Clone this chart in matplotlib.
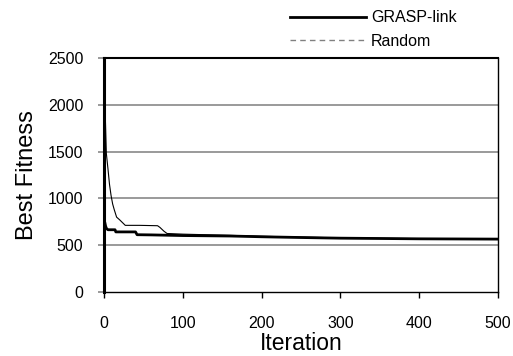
import matplotlib
matplotlib.use("Agg")
import matplotlib.pyplot as plt
from matplotlib.lines import Line2D

plt.rcParams['font.family'] = ['Liberation Sans', 'DejaVu Sans']

# GRASP-link series (iteration, best fitness)
grasp_iter = [0, 1, 2, 3, 5, 14, 15, 40, 42, 60, 100, 160, 200, 250, 300, 400, 500]
grasp_fit = [755, 745, 705, 680, 665, 665, 642, 642, 612, 610, 603, 598, 590, 582, 575, 568, 565]

# Random series
rand_iter = [0, 1, 2, 3, 5, 7, 9, 11, 13, 16, 20, 24, 27, 45, 68, 71, 76, 80, 100, 160, 200, 300, 400, 500]
rand_fit = [2300, 2050, 1780, 1480, 1320, 1150, 1030, 940, 880, 800, 770, 737, 712, 712, 708, 690, 650, 625, 618, 605, 595, 578, 570, 567]

x_ticks = [0, 100, 200, 300, 400, 500]
y_ticks = [0, 500, 1000, 1500, 2000, 2500]

fig = plt.figure(figsize=(5.13, 3.56), dpi=100)
ax = fig.add_axes([0.2027, 0.1798, 0.7681, 0.6573])

for y in y_ticks[1:-1]:
    ax.axhline(y, color='#7f7f7f', lw=1.1, zorder=1)

ax.plot(rand_iter, rand_fit, color='black', lw=0.8, zorder=6)
ax.plot(grasp_iter, grasp_fit, color='black', lw=2.0, zorder=4)

ax.set_xlim(0, 500)
ax.set_ylim(0, 2500)
ax.set_xticks(x_ticks)
ax.set_yticks(y_ticks)
ax.tick_params(axis='y', length=4.3, width=1.1, color='#7f7f7f', labelsize=11.5, pad=10.5)
ax.tick_params(axis='x', length=4, width=1, color='black', labelsize=11.5, pad=13, direction='out')

ax.spines['left'].set_linewidth(2.2)
ax.spines['left'].set_color('black')
ax.spines['left'].set_zorder(5)
ax.spines['bottom'].set_linewidth(1.0)
ax.spines['top'].set_linewidth(1.5)
ax.spines['right'].set_linewidth(1.0)

ax.set_xlabel('Iteration', fontsize=16.5, labelpad=1)
ax.set_ylabel('Best Fitness', fontsize=17, labelpad=7)

handles = [Line2D([], [], color='black', lw=2.0),
           Line2D([], [], color='#808080', lw=1.0, linestyle=(0, (4, 3)))]
fig.legend(handles, ['GRASP-link', 'Random'], loc='upper right',
           bbox_to_anchor=(0.912, 1.003), frameon=False, fontsize=11.5,
           handlelength=4.8, handletextpad=0.3, labelspacing=0.56, borderpad=0.2)

fig.savefig('out.png', dpi=100)
